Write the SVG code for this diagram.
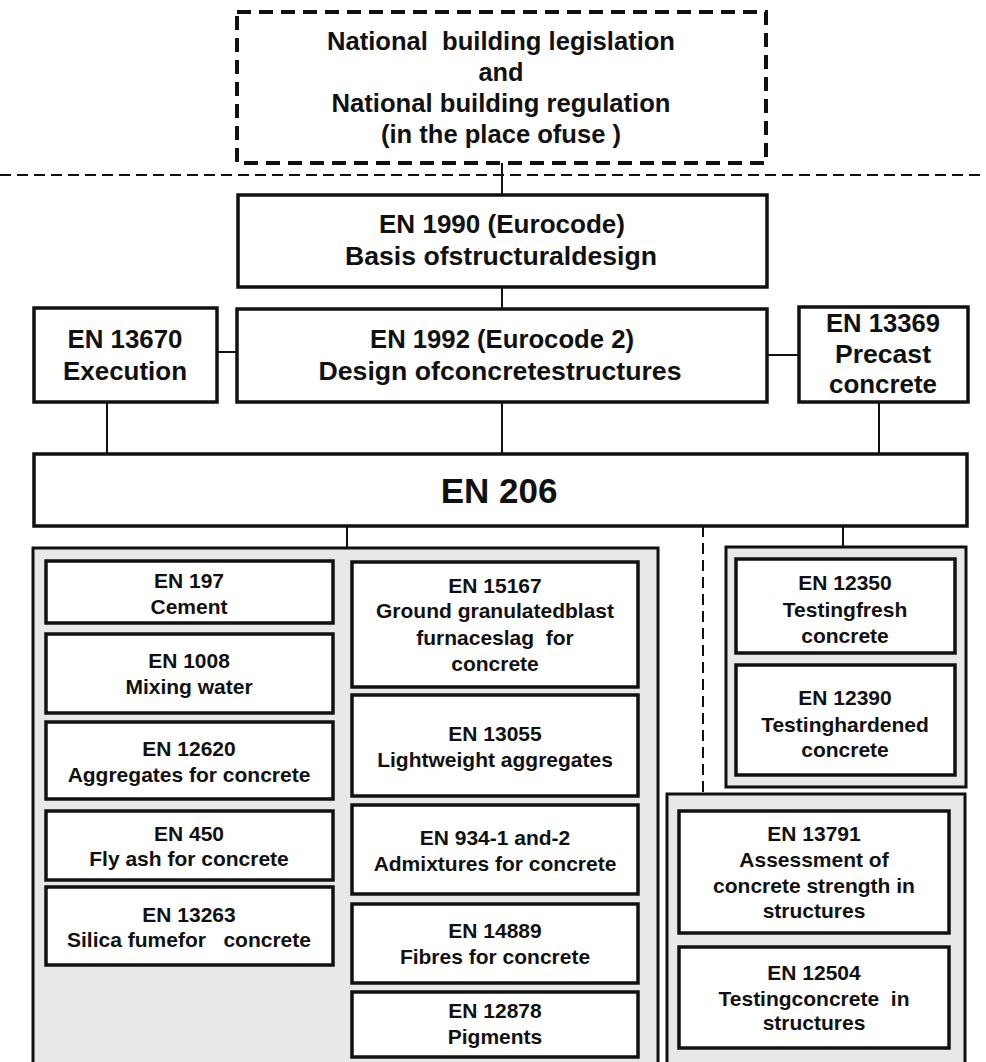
<svg xmlns="http://www.w3.org/2000/svg" width="986" height="1062" viewBox="0 0 986 1062">
<style>
text{font-family:"Liberation Sans",Arial,sans-serif;font-weight:bold;fill:#111;text-anchor:middle;white-space:pre}
.t{font-size:25px}
.s{font-size:21px}
.big{font-size:35px}
.box{fill:#fff;stroke:#111;stroke-width:3.5}
.grp{fill:#e8e8e8;stroke:#111;stroke-width:3}
.ln{stroke:#111;stroke-width:2;fill:none}
.dl{stroke:#111;stroke-width:2;fill:none;stroke-dasharray:11 6}
</style>
<rect width="986" height="1062" fill="#fff"/>
<g id="connectors">
<line class="dl" x1="0" y1="175" x2="986" y2="175"/>
<line class="ln" x1="502" y1="163" x2="502" y2="195"/>
<line class="ln" x1="502" y1="287" x2="502" y2="309"/>
<line class="ln" x1="217" y1="352" x2="237" y2="352"/>
<line class="ln" x1="767" y1="355" x2="799" y2="355"/>
<line class="ln" x1="107" y1="402" x2="107" y2="454"/>
<line class="ln" x1="502" y1="402" x2="502" y2="454"/>
<line class="ln" x1="879" y1="402" x2="879" y2="454"/>
<line class="ln" x1="347" y1="526" x2="347" y2="548"/>
<line class="ln" x1="843" y1="526" x2="843" y2="547"/>
<line class="dl" x1="703" y1="526" x2="703" y2="794"/>
</g>
<g id="national">
<rect x="237" y="12" width="529" height="151" fill="#fff" stroke="#111" stroke-width="4" stroke-dasharray="14 8"/>
<text class="t" x="501" y="50" textLength="348" lengthAdjust="spacingAndGlyphs" xml:space="preserve">National  building legislation</text>
<text class="t" x="501" y="81" textLength="45" lengthAdjust="spacingAndGlyphs">and</text>
<text class="t" x="501" y="112" textLength="339" lengthAdjust="spacingAndGlyphs">National building regulation</text>
<text class="t" x="501" y="143" textLength="240" lengthAdjust="spacingAndGlyphs">(in the place ofuse )</text>
</g>
<g id="en1990">
<rect class="box" x="238" y="195" width="529" height="92"/>
<text class="t" x="502" y="233" textLength="246" lengthAdjust="spacingAndGlyphs">EN 1990 (Eurocode)</text>
<text class="t" x="501" y="265" textLength="312" lengthAdjust="spacingAndGlyphs">Basis ofstructuraldesign</text>
</g>
<g id="en13670">
<rect class="box" x="34" y="308" width="183" height="94"/>
<text class="t" x="125" y="348" textLength="115" lengthAdjust="spacingAndGlyphs">EN 13670</text>
<text class="t" x="125" y="380" textLength="124" lengthAdjust="spacingAndGlyphs">Execution</text>
</g>
<g id="en1992">
<rect class="box" x="237" y="309" width="530" height="93"/>
<text class="t" x="502" y="348" textLength="264" lengthAdjust="spacingAndGlyphs">EN 1992 (Eurocode 2)</text>
<text class="t" x="500" y="380" textLength="363" lengthAdjust="spacingAndGlyphs">Design ofconcretestructures</text>
</g>
<g id="en13369">
<rect class="box" x="799" y="307" width="169" height="95"/>
<text class="t" x="883" y="332" textLength="114" lengthAdjust="spacingAndGlyphs">EN 13369</text>
<text class="t" x="883" y="363" textLength="96" lengthAdjust="spacingAndGlyphs">Precast</text>
<text class="t" x="883" y="393" textLength="108" lengthAdjust="spacingAndGlyphs">concrete</text>
</g>
<g id="en206">
<rect class="box" x="34" y="454" width="933" height="72"/>
<text class="big" x="499" y="503">EN 206</text>
</g>
<g id="constituents">
<rect class="grp" x="33" y="548" width="625" height="520"/>
</g>
<g id="en197"><rect class="box" x="46" y="561" width="287" height="62"/>
<text class="s" x="189" y="588">EN 197</text><text class="s" x="189" y="614">Cement</text></g>
<g id="en1008"><rect class="box" x="46" y="634" width="287" height="79"/>
<text class="s" x="189" y="668">EN 1008</text><text class="s" x="189" y="694">Mixing water</text></g>
<g id="en12620"><rect class="box" x="46" y="722" width="287" height="77"/>
<text class="s" x="189" y="756">EN 12620</text><text class="s" x="189" y="782">Aggregates for concrete</text></g>
<g id="en450"><rect class="box" x="46" y="811" width="287" height="69"/>
<text class="s" x="189" y="841">EN 450</text><text class="s" x="189" y="866">Fly ash for concrete</text></g>
<g id="en13263"><rect class="box" x="46" y="887" width="287" height="78"/>
<text class="s" x="189" y="922">EN 13263</text><text class="s" x="189" y="947" xml:space="preserve">Silica fumefor   concrete</text></g>
<g id="en15167"><rect class="box" x="352" y="562" width="286" height="125"/>
<text class="s" x="495" y="593">EN 15167</text><text class="s" x="495" y="618">Ground granulatedblast</text>
<text class="s" x="495" y="645" xml:space="preserve">furnaceslag  for</text><text class="s" x="495" y="671">concrete</text></g>
<g id="en13055"><rect class="box" x="352" y="695" width="286" height="101"/>
<text class="s" x="495" y="741">EN 13055</text><text class="s" x="495" y="767">Lightweight aggregates</text></g>
<g id="en934"><rect class="box" x="352" y="805" width="286" height="89"/>
<text class="s" x="495" y="845">EN 934-1 and-2</text><text class="s" x="495" y="871">Admixtures for concrete</text></g>
<g id="en14889"><rect class="box" x="352" y="904" width="286" height="79"/>
<text class="s" x="495" y="938">EN 14889</text><text class="s" x="495" y="964">Fibres for concrete</text></g>
<g id="en12878"><rect class="box" x="352" y="992" width="286" height="65"/>
<text class="s" x="495" y="1018">EN 12878</text><text class="s" x="495" y="1044">Pigments</text></g>
<g id="testing-group">
<rect class="grp" x="726" y="547" width="240" height="240"/>
</g>
<g id="en12350"><rect class="box" x="736" y="559" width="219" height="94"/>
<text class="s" x="845" y="590">EN 12350</text><text class="s" x="845" y="617">Testingfresh</text><text class="s" x="845" y="643">concrete</text></g>
<g id="en12390"><rect class="box" x="736" y="665" width="219" height="110"/>
<text class="s" x="845" y="705">EN 12390</text><text class="s" x="845" y="732">Testinghardened</text><text class="s" x="845" y="757">concrete</text></g>
<g id="structures-group">
<rect class="grp" x="667" y="794" width="298" height="274"/>
</g>
<g id="en13791"><rect class="box" x="679" y="811" width="270" height="122"/>
<text class="s" x="814" y="841">EN 13791</text><text class="s" x="814" y="867">Assessment of</text>
<text class="s" x="814" y="893">concrete strength in</text><text class="s" x="814" y="918">structures</text></g>
<g id="en12504"><rect class="box" x="679" y="947" width="270" height="101"/>
<text class="s" x="814" y="980">EN 12504</text><text class="s" x="814" y="1006" xml:space="preserve">Testingconcrete  in</text><text class="s" x="814" y="1030">structures</text></g>
</svg>
